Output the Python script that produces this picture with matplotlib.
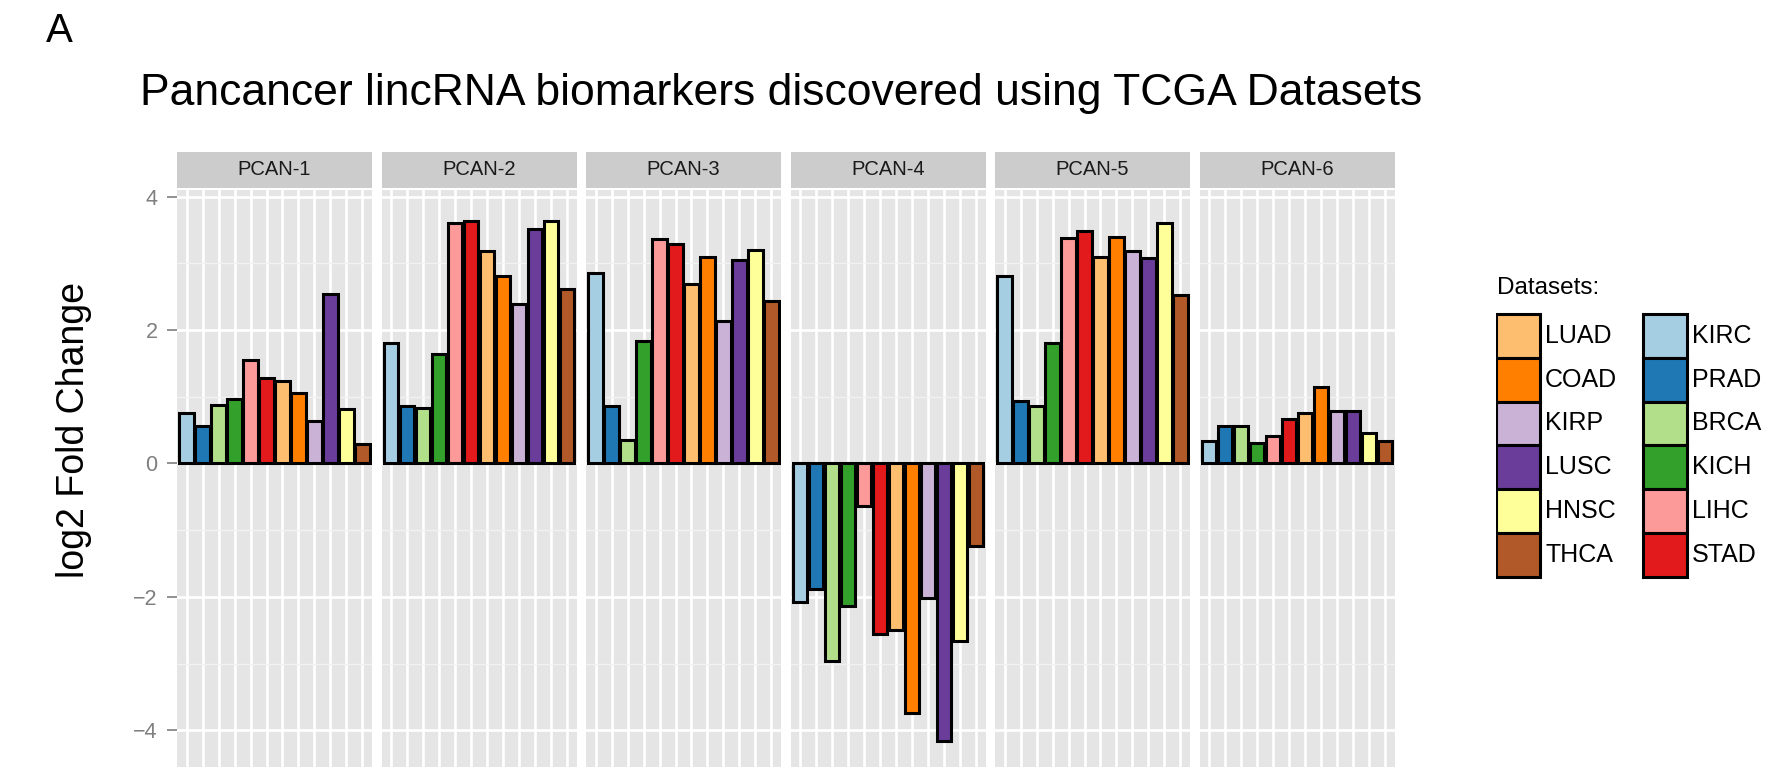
import matplotlib
matplotlib.use('Agg')
import matplotlib.pyplot as plt
from matplotlib.patches import Rectangle
import numpy as np

plt.rcParams['font.family'] = ['Liberation Sans', 'DejaVu Sans']

# datasets in plotting order (ggplot Paired palette)
datasets = ['KIRC', 'PRAD', 'BRCA', 'KICH', 'LIHC', 'STAD',
            'LUAD', 'COAD', 'KIRP', 'LUSC', 'HNSC', 'THCA']
colors = ['#A6CEE3', '#1F78B4', '#B2DF8A', '#33A02C', '#FB9A99', '#E31A1C',
          '#FDBF6F', '#FF7F00', '#CAB2D6', '#6A3D9A', '#FFFF99', '#B15928']

panels = ['PCAN-1', 'PCAN-2', 'PCAN-3', 'PCAN-4', 'PCAN-5', 'PCAN-6']

# log2 fold change, one list per lincRNA, same order as datasets
pcan1 = [0.75, 0.56, 0.88, 0.96, 1.55, 1.28, 1.23, 1.06, 0.63, 2.54, 0.82, 0.29]
pcan2 = [1.80, 0.86, 0.83, 1.64, 3.61, 3.64, 3.18, 2.81, 2.39, 3.51, 3.63, 2.61]
pcan3 = [2.85, 0.86, 0.35, 1.83, 3.36, 3.29, 2.69, 3.09, 2.14, 3.05, 3.20, 2.44]
pcan4 = [-2.08, -1.88, -2.96, -2.14, -0.64, -2.55, -2.50, -3.74, -2.01, -4.16, -2.66, -1.24]
pcan5 = [2.81, 0.93, 0.86, 1.81, 3.38, 3.49, 3.09, 3.39, 3.18, 3.08, 3.60, 2.52]
pcan6 = [0.33, 0.56, 0.56, 0.30, 0.41, 0.66, 0.76, 1.14, 0.78, 0.79, 0.45, 0.34]
values = [pcan1, pcan2, pcan3, pcan4, pcan5, pcan6]

# legend layout as in the figure: two columns of six
legend_cols = [['LUAD', 'COAD', 'KIRP', 'LUSC', 'HNSC', 'THCA'],
               ['KIRC', 'PRAD', 'BRCA', 'KICH', 'LIHC', 'STAD']]

W, H = 1792, 776
fig = plt.figure(figsize=(W / 100, H / 100), dpi=100)

def px_axes(x0, y0, x1, y1):
    # y measured from the top in pixels
    return fig.add_axes([x0 / W, 1 - y1 / H, (x1 - x0) / W, (y1 - y0) / H])

left0, pw, gap = 177, 195, 9.5
ptop, pbot = 190, 767
stop, sbot = 151.7, 187.5

x = np.arange(len(datasets))
for i, name in enumerate(panels):
    x0 = left0 + i * (pw + gap)
    ax = px_axes(x0, ptop, x0 + pw, pbot)
    ax.set_facecolor('#E5E5E5')
    for s in ax.spines.values():
        s.set_visible(False)
    ax.set_xlim(-0.6, len(datasets) - 0.4)
    ax.set_ylim(-4.55, 4.1)
    ax.set_yticks([-4, -2, 0, 2, 4])
    ax.set_yticks([-3, -1, 1, 3], minor=True)
    ax.set_xticks(x)
    ax.grid(True, which='major', color='white', linewidth=1.9)
    ax.grid(True, which='minor', axis='y', color='#F2F2F2', linewidth=1.0)
    ax.set_axisbelow(True)
    ax.bar(x, values[i], width=0.9, color=colors, edgecolor='black', linewidth=2.2)
    ax.tick_params(axis='x', length=0, labelbottom=False)
    ax.tick_params(axis='y', which='minor', length=0)
    if i == 0:
        ax.tick_params(axis='y', which='major', length=7, width=1.2, color='#7F7F7F',
                       labelcolor='#7F7F7F', labelsize=15.5, pad=7)
        ax.set_yticklabels(['\u22124', '\u22122', '0', '2', '4'])
    else:
        ax.tick_params(axis='y', which='major', length=0, labelleft=False)

    sax = px_axes(x0, stop, x0 + pw, sbot)
    sax.set_facecolor('#CCCCCC')
    sax.set_xticks([])
    sax.set_yticks([])
    for s in sax.spines.values():
        s.set_visible(False)
    sax.text(0.5, 0.5, name, ha='center', va='center', fontsize=14.5,
             color='#1A1A1A', transform=sax.transAxes)

fig.text(46 / W, 1 - 42 / H, 'A', fontsize=29, va='baseline', ha='left')
fig.text(140 / W, 1 - 105 / H, 'Pancancer lincRNA biomarkers discovered using TCGA Datasets',
         fontsize=32, va='baseline', ha='left')
fig.text(74 / W, 1 - 430 / H, 'log2 Fold Change', fontsize=27, rotation=90,
         va='center', ha='center')

# legend drawn in its own axes, units = key cells
lax = px_axes(1496, 270, 1792, 580)
lax.set_xlim(0, 296)
lax.set_ylim(310, 0)
lax.axis('off')
lax.text(1, 24, 'Datasets:', fontsize=17.5, va='baseline', ha='left')
key_w, key_h, col_step, top = 44, 43.8, 146.7, 44
for c, names in enumerate(legend_cols):
    for r, d in enumerate(names):
        kx = c * col_step
        ky = top + r * key_h
        lax.add_patch(Rectangle((kx, ky), key_w, key_h,
                                facecolor=colors[datasets.index(d)],
                                edgecolor='black', linewidth=2.2))
        lax.text(kx + key_w + 5, ky + key_h / 2, d, fontsize=18,
                 va='center', ha='left')

fig.savefig('out.png', dpi=100, facecolor='white')
